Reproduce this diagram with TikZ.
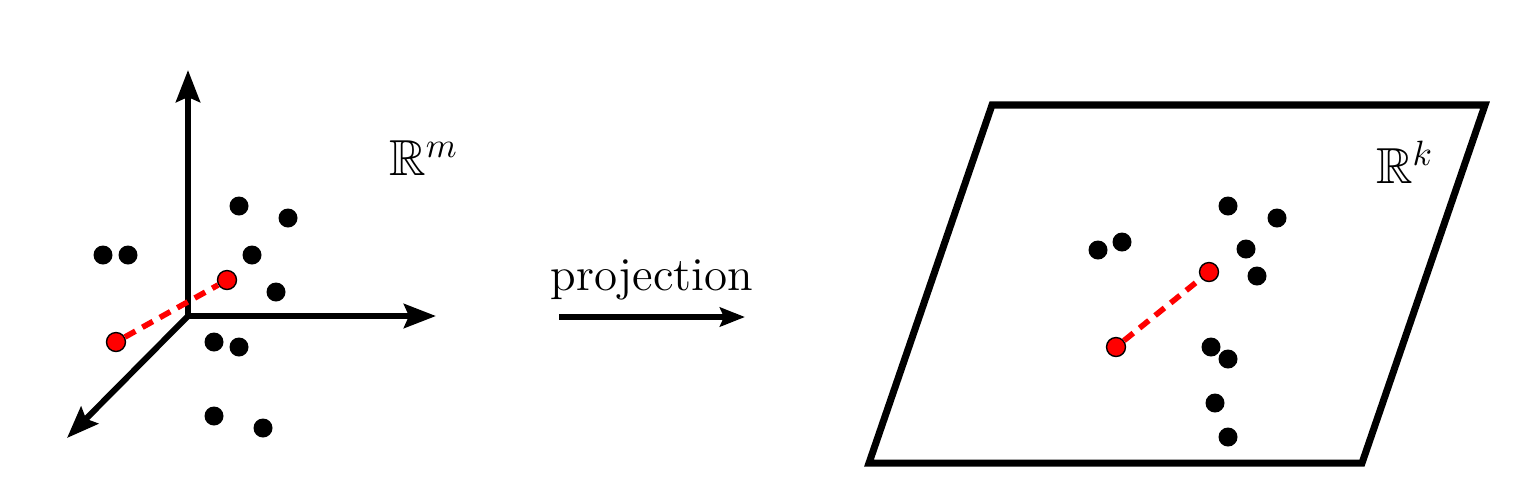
\documentclass[tikz,border=0pt]{standalone}
\usepackage{amsmath}
\usepackage{amsfonts}
\usepackage{amssymb}
\usetikzlibrary{arrows.meta}

\tikzset{
    axis/.style={line width=1.7pt, -{Stealth[length=0.32cm, width=0.24cm, inset=0.05cm]}},
    blackdot/.style={circle, fill=black, inner sep=0pt, minimum size=0.19cm},
    reddot/.style={circle, draw=black, line width=0.4pt, fill=red, inner sep=0pt, minimum size=0.19cm},
    redlink/.style={red, line width=1.6pt, dash pattern=on 0.12cm off 0.08cm}
}

\begin{document}
\begin{tikzpicture}
    \useasboundingbox (0,0) rectangle (15.37,4.98);

    % High dimensional space
    \coordinate (O) at (1.88, 1.82);
    \coordinate (ytip) at (1.88, 4.28);
    \coordinate (xtip) at (4.36, 1.82);
    \coordinate (ztip) at (0.67, 0.60);
    \draw[axis] (O) -- (ytip);
    \draw[axis] (O) -- (xtip);
    \draw[axis] (O) -- (ztip);
    \node at (4.24, 3.40) {\Large $\mathbb{R}^m$};
    % Points
    \node[blackdot] (m1) at (1.03, 2.43) {};
    \node[blackdot] (m2) at (1.28, 2.43) {};
    \node[blackdot] (m3) at (2.39, 2.92) {};
    \node[blackdot] (m4) at (2.88, 2.80) {};
    \node[blackdot] (m5) at (2.52, 2.43) {};
    \node[blackdot] (m6) at (2.76, 2.06) {};
    \node[blackdot] (m7) at (2.14, 1.56) {};
    \node[blackdot] (m8) at (2.39, 1.51) {};
    \node[blackdot] (m9) at (2.14, 0.82) {};
    \node[blackdot] (m10) at (2.63, 0.70) {};
    \node[reddot] (ma) at (2.27, 2.18) {};
    \node[reddot] (mb) at (1.16, 1.56) {};
    \draw[redlink] (mb) -- (ma);

    % Projection arrow
    \coordinate (pstart) at (5.59, 1.81);
    \coordinate (pend) at (7.45, 1.81);
    \draw[line width=1.6pt, -{Stealth[length=0.25cm, width=0.19cm, inset=0.04cm]}] (pstart) -- (pend);
    \node[anchor=base] (ptext) at (6.52, 2.08) {\fontsize{13.4pt}{16pt}\selectfont projection};

    % Low dimensional space
    \draw[line width=2pt] (9.92, 3.93) -- (14.85, 3.93) -- (13.62, 0.35) -- (8.69, 0.35) -- cycle;
    \node at (14.05, 3.36) {\Large $\mathbb{R}^k$};
    % Points
    \node[blackdot] (k1) at (12.28, 2.92) {};
    \node[blackdot] (k2) at (12.77, 2.80) {};
    \node[blackdot] (k3) at (10.98, 2.48) {};
    \node[blackdot] (k4) at (11.22, 2.56) {};
    \node[blackdot] (k5) at (12.46, 2.49) {};
    \node[blackdot] (k6) at (12.57, 2.22) {};
    \node[blackdot] (k7) at (12.11, 1.51) {};
    \node[blackdot] (k8) at (12.28, 1.39) {};
    \node[blackdot] (k9) at (12.15, 0.95) {};
    \node[blackdot] (k10) at (12.28, 0.61) {};
    \node[reddot] (ka) at (12.09, 2.26) {};
    \node[reddot] (kb) at (11.16, 1.51) {};
    \draw[redlink] (kb) -- (ka);
\end{tikzpicture}
\end{document}
